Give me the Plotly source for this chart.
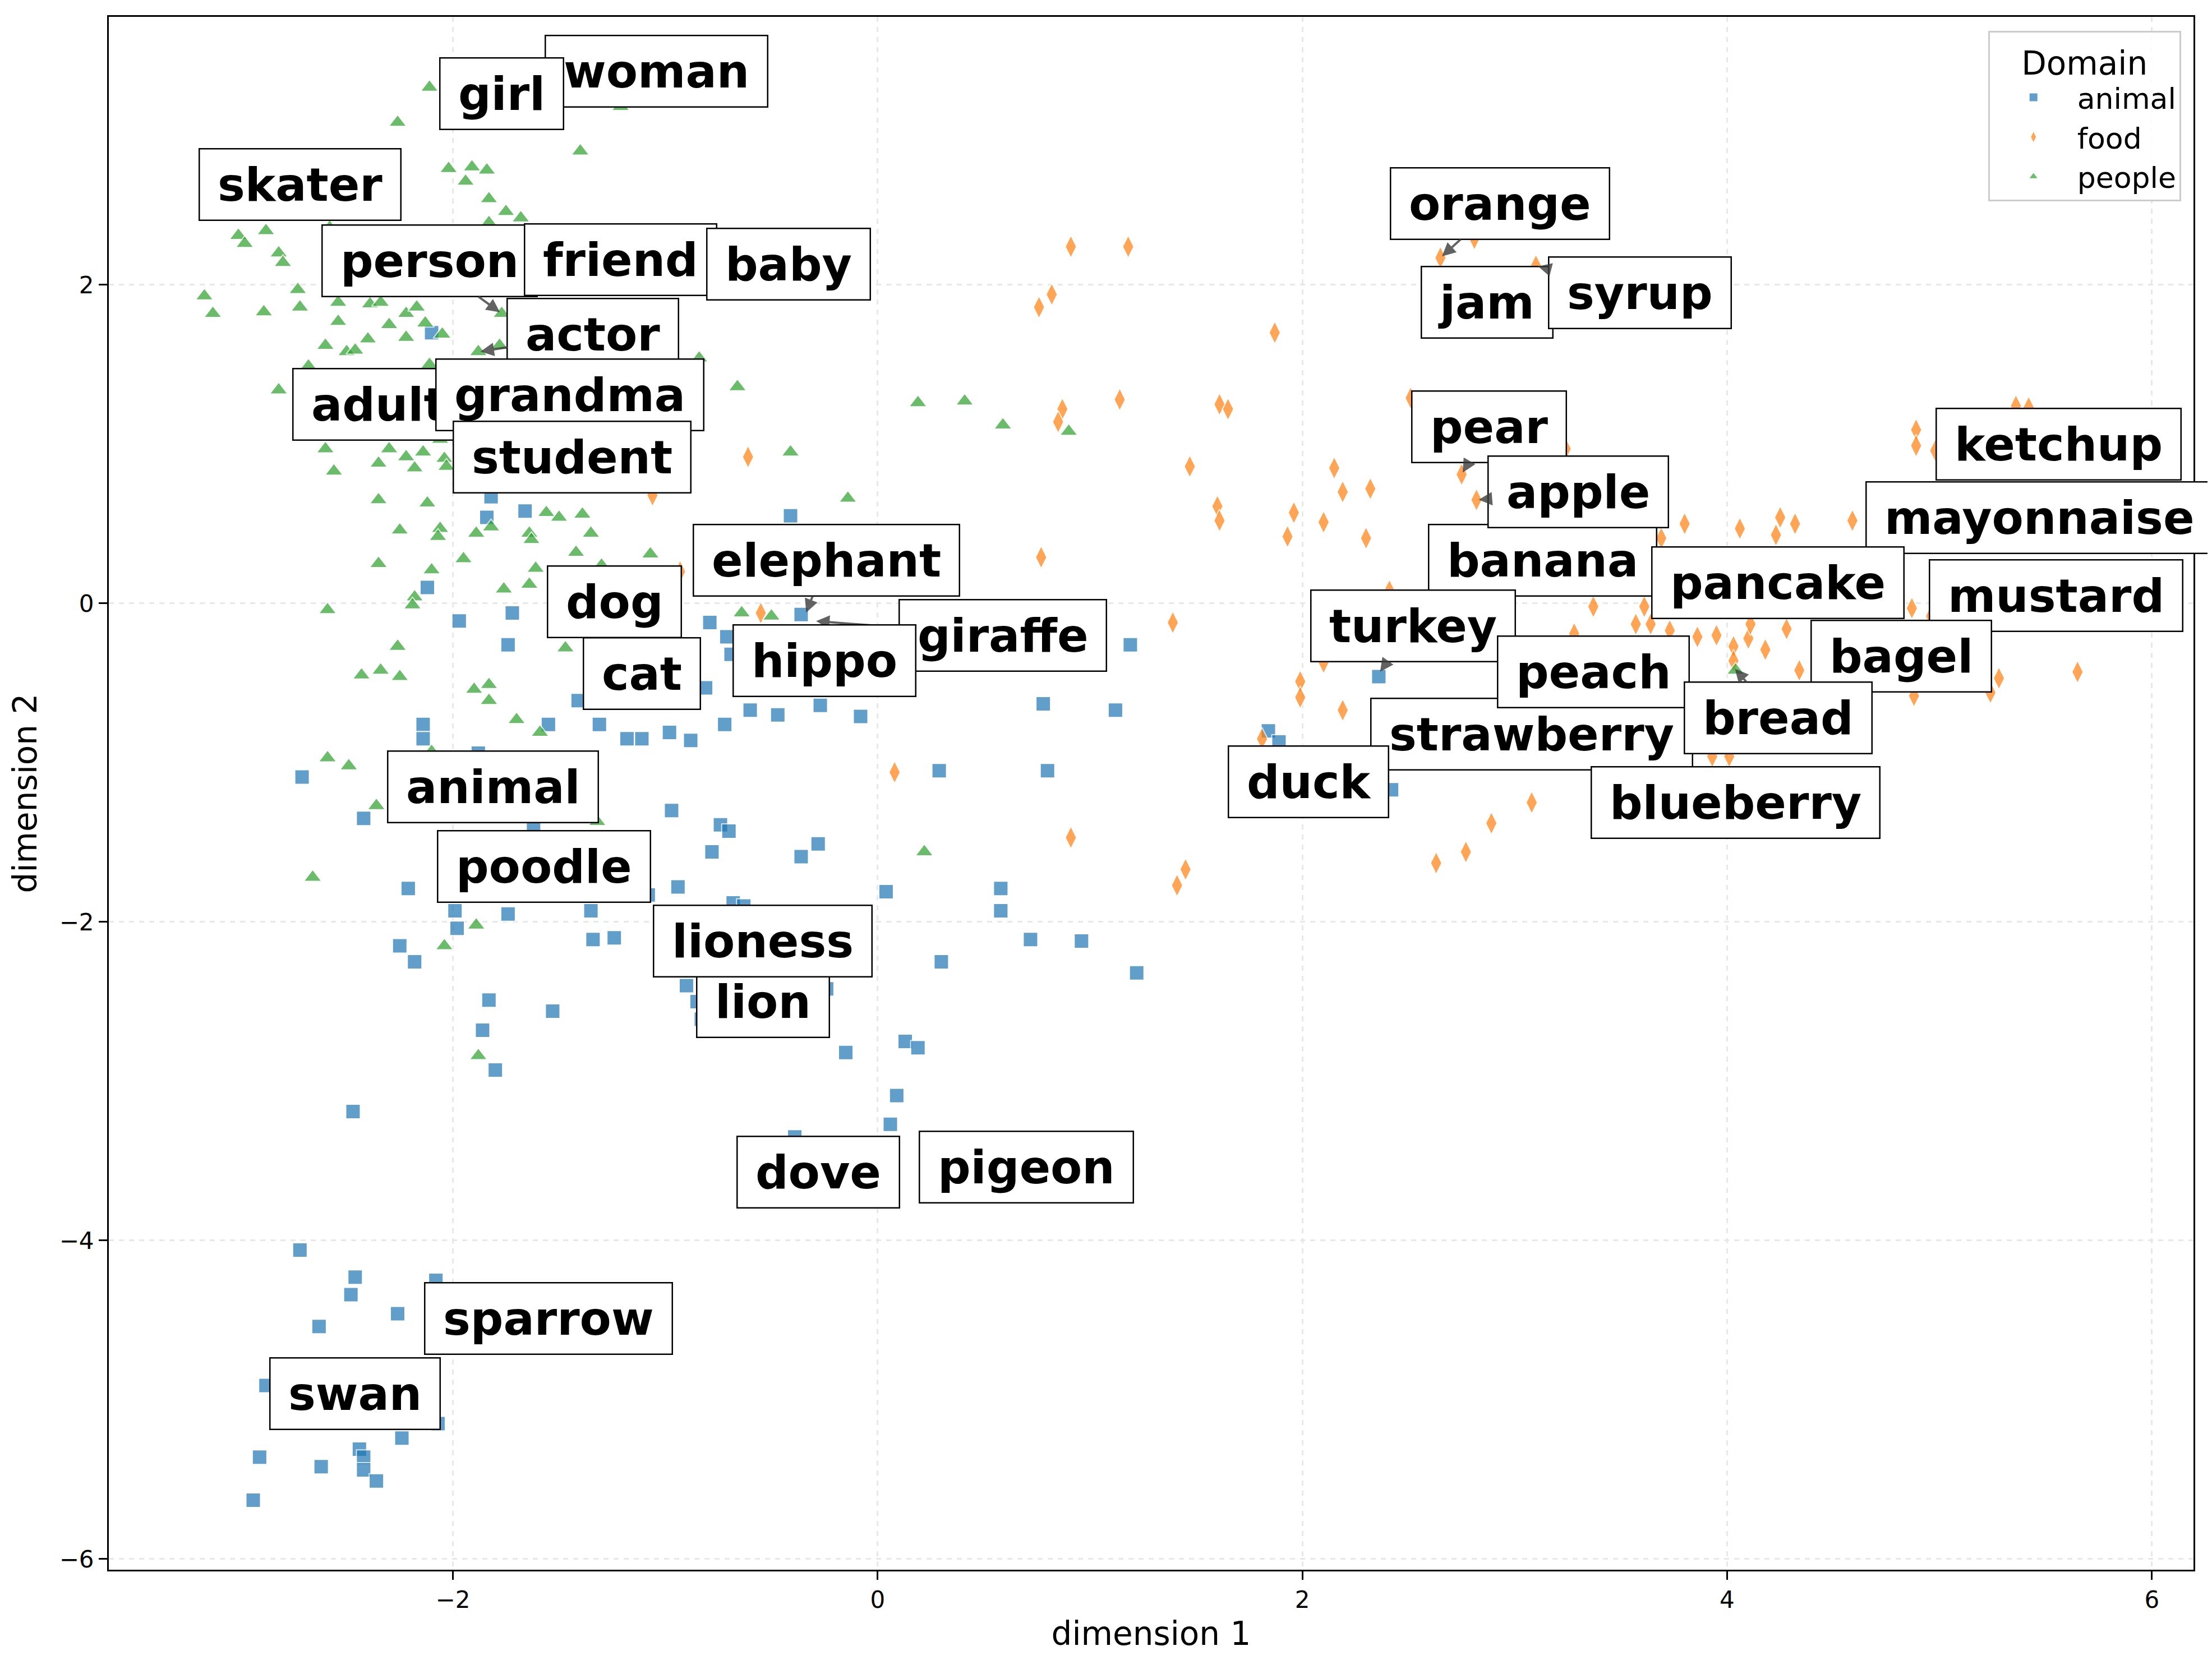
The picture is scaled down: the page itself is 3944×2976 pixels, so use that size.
import plotly.graph_objects as go

#Point data (2D embedding)
animal_x = [-2.10, -1.82, -1.84, -1.66, -0.41, -2.12, -1.97, -1.72, -1.74, -0.79, -0.71, -0.69, -0.36, -0.81,
            -1.41, -0.60, -0.47, 1.19, 2.36, 0.78, 1.12, -0.27, -0.08,
            -2.14, -2.14, -1.55, -1.31, -1.18, -1.11, -0.98, -0.88, -0.72, -1.88, -2.71, -2.42, -1.62, -0.97,
            -0.74, -0.70, -0.78, -0.36, -2.21, -1.99, -1.74, -1.35, -1.08, -0.94, -0.68, -0.63, -1.98, -2.25,
            -2.18, -1.34, -1.24, -1.83, -1.53, -1.86, -1.80, -2.47, -0.90, -0.85, -0.83, -0.39,
            -0.28, 0.04, 0.58, 0.58, 0.72, 0.96, 1.22, 0.30, 0.13, 0.19, -0.15, 0.09, 0.06, 0.29, 0.80,
            1.84, 1.89, 2.42, -0.24,
            -2.72, -2.46, -2.48, -2.08, -2.26, -2.63, -2.88, -2.07, -2.24, -2.44, -2.42, -2.42, -2.91, -2.62,
            -2.36, -2.94]
animal_y = [1.70, 0.67, 0.54, 0.58, 0.55, 0.10, -0.11, -0.06, -0.26, -0.12, -0.21, -0.32, -0.07, -0.53,
            -0.61, -0.67, -0.70, -0.26, -0.46, -0.63, -0.67, -0.64, -0.71,
            -0.76, -0.85, -0.76, -0.76, -0.85, -0.85, -0.81, -0.86, -0.76, -0.94, -1.09, -1.35, -1.42, -1.30,
            -1.39, -1.43, -1.56, -1.59, -1.79, -1.93, -1.95, -1.93, -1.83, -1.78, -1.88, -1.90, -2.04, -2.15,
            -2.25, -2.11, -2.10, -2.49, -2.56, -2.68, -2.93, -3.19, -2.40, -2.50, -2.61, -3.35,
            -1.51, -1.81, -1.79, -1.93, -2.11, -2.12, -2.32, -2.25, -2.75, -2.79, -2.82, -3.09, -3.27, -1.05, -1.05,
            -0.80, -0.87, -1.17, -2.42,
            -4.06, -4.23, -4.34, -4.25, -4.46, -4.54, -4.91, -5.15, -5.24, -5.31, -5.36, -5.44, -5.36, -5.42,
            -5.51, -5.63]

food_x = [-0.61, -0.93, -0.55, -1.06,
          0.91, 1.18, 0.82, 0.76, 1.87, 2.65, 2.81, 1.14, 0.87, 0.85, 1.61, 1.65, 2.51, 1.47, 2.15, 2.19,
          2.32, 1.60, 1.61, 1.96, 1.93, 2.10, 2.30, 2.75, 2.82, 0.77, 1.39, 1.99, 1.99, 2.19, 2.41, 2.10,
          3.10, 3.24, 4.89, 4.89, 4.98, 5.36, 5.42, 3.80, 4.06, 4.25, 4.23, 4.32, 4.59, 3.69, 3.70, 3.37,
          3.61, 3.57, 3.64, 3.73, 3.28, 3.86, 3.95, 4.03, 4.10, 4.11, 4.18, 4.28, 4.87, 4.96, 5.65, 5.28,
          5.24, 4.34, 4.88, 4.03,
          0.08, 0.91, 1.45, 1.41, 1.81, 2.89, 2.77, 2.63,
          3.08, 3.93, 4.01]
food_y = [0.92, 0.20, -0.06, 0.68,
          2.24, 2.24, 1.94, 1.86, 1.70, 2.17, 2.29, 1.28, 1.22, 1.14, 1.25, 1.22, 1.29, 0.86, 0.85, 0.70,
          0.72, 0.61, 0.52, 0.57, 0.42, 0.51, 0.41, 0.81, 0.65, 0.29, -0.12, -0.49, -0.59, -0.67, 0.08, -0.37,
          2.12, 0.97, 1.09, 0.99, 0.96, 1.24, 1.23, 0.50, 0.47, 0.54, 0.43, 0.50, 0.52, 0.41, 0.62, -0.02,
          -0.02, -0.13, -0.13, -0.17, -0.19, -0.21, -0.20, -0.27, -0.22, -0.13, -0.29, -0.16, -0.03, -0.08, -0.43, -0.47,
          -0.56, -0.42, -0.58, -0.36,
          -1.06, -1.47, -1.67, -1.77, -0.85, -1.38, -1.56, -1.63,
          -1.25, -0.96, -0.96]

people_x = [-2.11, -2.26, -1.40, -1.21, -2.02, -1.91, -1.84, -1.94, -1.83, -1.75, -1.68, -1.83, -3.01, -2.88,
            -2.98, -2.82, -2.80, -2.58, -3.17, -3.13, -2.89, -2.73, -2.72, -2.54, -2.54, -2.39, -2.34, -2.22,
            -2.17, -2.13, -2.30, -2.22, -2.40, -2.60, -2.50, -2.46, -2.05, -1.77, -1.78, -1.88, -2.68, -2.82,
            -2.11, -0.84, -0.66, -2.60, -2.56, -2.35, -2.30, -2.22, -2.18, -2.14, -2.04, -2.03, -2.06, -0.41,
            -2.35, -2.12, -1.56, -1.50, -1.39, -2.25, -2.06, -2.07, -1.89, -1.82, -1.64, -1.63, -1.35, -2.35,
            -2.10, -1.95, -1.61, -1.42, -1.07, -1.64, -1.76, -2.18, -2.19, -2.59, -2.26, -1.47, -2.43, -2.34,
            -2.25, -1.90, -1.83, -1.83, -0.64, -0.50, -1.30,
            0.19, 0.41, 0.59, 0.90, -0.14,
            -2.59, -2.49, -2.36, -2.10, -1.32, -2.66, -1.89, -2.04, -1.88, -1.59, -1.70,
            0.22, 4.04]
people_y = [3.24, 3.02, 2.84, 3.12, 2.73, 2.74, 2.72, 2.65, 2.54, 2.46, 2.42, 2.39, 2.31, 2.34,
            2.26, 2.20, 2.14, 2.36, 1.93, 1.82, 1.83, 1.97, 1.86, 1.89, 1.77, 1.88, 1.89, 1.82,
            1.86, 1.76, 1.75, 1.67, 1.66, 1.62, 1.58, 1.59, 1.69, 1.82, 1.62, 1.58, 1.49, 1.34,
            1.50, 1.54, 1.36, 0.97, 0.83, 0.88, 0.97, 0.92, 0.85, 0.95, 0.91, 0.86, 1.03, 0.95,
            0.65, 0.63, 0.57, 0.54, 0.56, 0.46, 0.47, 0.42, 0.44, 0.48, 0.44, 0.40, 0.44, 0.25,
            0.21, 0.28, 0.22, 0.32, 0.31, 0.12, 0.09, 0.04, -0.01, -0.04, -0.27, -0.28, -0.45, -0.42,
            -0.46, -0.54, -0.51, -0.61, -0.06, -0.08, 0.24,
            1.26, 1.27, 1.12, 1.08, 0.66,
            -0.97, -1.02, -1.27, -0.93, -1.37, -1.72, -2.02, -2.15, -2.84, -0.81, -0.73,
            -1.56, -0.42]

#Word labels (centre of each label box, in data units), drawn in this order
label_words = ['woman', 'girl', 'skater', 'person', 'friend', 'baby', 'actor', 'adult', 'grandma', 'student',
               'elephant', 'dog', 'cat', 'giraffe', 'hippo', 'animal', 'poodle', 'lion', 'lioness', 'dove',
               'pigeon', 'sparrow', 'swan', 'orange', 'jam', 'syrup', 'pear', 'banana', 'apple', 'turkey',
               'strawberry', 'peach', 'duck', 'ketchup', 'mayonnaise', 'mustard', 'pancake', 'blueberry',
               'bagel', 'bread']
label_x = [-1.04, -1.77, -2.72, -2.11, -1.21, -0.42, -1.34, -2.35, -1.45, -1.44,
           -0.24, -1.24, -1.11, 0.59, -0.25, -1.81, -1.57, -0.54, -0.54, -0.28,
           0.70, -1.55, -2.46, 2.93, 2.87, 3.59, 2.88, 3.13, 3.30, 2.52,
           3.08, 3.37, 2.03, 5.56, 5.47, 5.55, 4.24, 4.04, 4.82, 4.24]
label_y = [3.34, 3.20, 2.63, 2.15, 2.16, 2.13, 1.69, 1.25, 1.31, 0.92,
           0.27, 0.01, -0.44, -0.20, -0.36, -1.15, -1.65, -2.50, -2.12, -3.57,
           -3.54, -4.49, -4.96, 2.51, 1.89, 1.95, 1.11, 0.27, 0.70, -0.14,
           -0.82, -0.43, -1.12, 1.00, 0.54, 0.05, 0.13, -1.25, -0.33, -0.72]

#Labels that point back to their word with an arrow
arrow_words = ['person', 'actor', 'elephant', 'giraffe', 'orange', 'syrup', 'pear', 'apple', 'turkey', 'bread']
arrow_x = [-1.77, -1.88, -0.34, -0.30, 2.65, 3.10, 2.75, 2.82, 2.36, 4.03]
arrow_y = [1.82, 1.58, -0.07, -0.11, 2.17, 2.12, 0.81, 0.65, -0.44, -0.40]

x_ticks = [-2, 0, 2, 4, 6]
y_ticks = [-6, -4, -2, 0, 2]

FONT = 'DejaVu Sans'

fig = go.Figure()

domains = [
    ('animal', animal_x, animal_y, '#1f77b4', 'square', 26),
    ('food', food_x, food_y, '#ff7f0e', 'diamond-tall', 29),
    ('people', people_x, people_y, '#2ca02c', 'triangle-up', 28),
]
for name, xs, ys, color, symbol, size in domains:
    fig.add_trace(go.Scatter(
        x=xs, y=ys, mode='markers', name=name,
        marker=dict(symbol=symbol, size=size, color=color, opacity=0.7,
                    line=dict(color='white', width=2)),
    ))

#Label boxes (thin spaces give the wider side padding of the original boxes)
annotations = []
for word, lx, ly in zip(label_words, label_x, label_y):
    ann = dict(text='\u2009' + word + '\u2009',
               font=dict(family=FONT, size=82, color='black', weight='bold'),
               bgcolor='white', bordercolor='black', borderwidth=2.5, borderpad=15)
    if word in arrow_words:
        i = arrow_words.index(word)
        ann.update(x=arrow_x[i], y=arrow_y[i], xref='x', yref='y',
                   ax=lx, ay=ly, axref='x', ayref='y',
                   showarrow=True, arrowhead=2, arrowsize=1.2, arrowwidth=4,
                   arrowcolor='rgba(60,60,60,0.8)', standoff=4)
    else:
        ann.update(x=lx, y=ly, xref='x', yref='y', showarrow=False)
    annotations.append(ann)

axis_style = dict(
    showline=True, mirror=True, linecolor='black', linewidth=3,
    ticks='outside', ticklen=15, tickwidth=3, tickcolor='black',
    showgrid=True, gridcolor='#e8e8e8', griddash='dash', gridwidth=3,
    zeroline=False, tickfont=dict(family=FONT, size=42, color='black'),
)

#page body keeps its default 8px margin, so the figure is 16px smaller than the window
fig.update_layout(
    width=3928, height=2960,
    margin=dict(l=186, r=25, t=22, b=169),
    paper_bgcolor='white', plot_bgcolor='white',
    font=dict(family=FONT, color='black'),
    annotations=annotations,
    legend=dict(
        title=dict(text='Domain', font=dict(family=FONT, size=58), side='top center'),
        font=dict(family=FONT, size=52),
        x=0.994, y=0.991, xanchor='right', yanchor='top',
        bgcolor='rgba(255,255,255,0.85)', bordercolor='#cccccc', borderwidth=3,
        itemwidth=146,
    ),
)
fig.update_xaxes(axis_style, range=[-3.62, 6.196], tickvals=x_ticks,
                 ticktext=[str(t).replace('-', '\u2212') for t in x_ticks],
                 title=dict(text='dimension 1', font=dict(family=FONT, size=58), standoff=16))
fig.update_yaxes(axis_style, range=[-6.067, 3.683], tickvals=y_ticks,
                 ticktext=[str(t).replace('-', '\u2212') for t in y_ticks],
                 title=dict(text='dimension 2', font=dict(family=FONT, size=58), standoff=22))

fig.write_html("out.html")
